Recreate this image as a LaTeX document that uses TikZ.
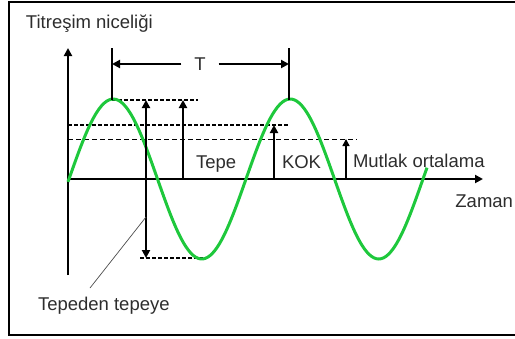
\documentclass[tikz,border=0pt]{standalone}
\usepackage{fontspec}
\setmainfont{Liberation Sans}
\usetikzlibrary{arrows.meta, math}
\definecolor{mygreen}{RGB}{30,200,60}
\definecolor{mytext}{RGB}{45,45,45}

\begin{document}
\begin{tikzpicture}[x=1pt,y=-1pt,line width=2pt,
  lbl/.style={text=mytext,font=\fontsize{18.5}{20}\selectfont,inner sep=0pt},
  arr/.style={-{Triangle[length=8pt,width=8pt]}},
  dline/.style={dash pattern=on 4pt off 2pt}]
\tikzmath{
\amp=80;
\per=177;
\xz=69;
\yb=179;
}
\useasboundingbox (0,0) rectangle (515,338);

% frame
\draw (515,2) -- (9,2) -- (9,335) -- (515,335);

% axes
\coordinate (ybot) at (68,275);
\coordinate (ytop) at (68,48);
\coordinate (O) at (68,\yb);
\coordinate (xend) at (483,\yb);
\draw[arr] (ybot) -- (ytop);
\draw[arr] (O) -- (xend);

% levels
\coordinate (pk1) at (112,100);
\coordinate (pk2) at (289,100);
\draw[dline] (pk1) -- (198,100);
\draw[dline] (68,125) -- (289,125);
\draw[line width=1pt,dash pattern=on 5pt off 3pt] (68,139) -- (357,139);
\draw[dline] (140,258) -- (203,258);

% the wave
\draw[mygreen,line width=3pt] plot[domain=68:427,samples=150,smooth]
  (\x,{\yb-\amp*sin((\x-\xz)/\per*360)});

% period T
\coordinate (t1) at (112,48);
\coordinate (t2) at (289,48);
\draw (t1) -- (pk1);
\draw (t2) -- (pk2);
\node[lbl] (lblT) at (200,64) {T};
\draw[arr] ([xshift=-12pt]lblT.west) -- (112,64);
\draw[arr] ([xshift=12pt]lblT.east) -- (289,64);

% amplitudes
\coordinate (pp1) at (146,100);
\coordinate (pp2) at (146,258);
\draw[{Triangle[length=8pt,width=8pt]}-{Triangle[length=8pt,width=8pt]}] (pp1) -- (pp2);
\draw[arr] (183,\yb) -- (183,100);
\draw[arr] (274,\yb) -- (274,125);
\draw[-{Triangle[length=7pt,width=7pt]},line width=1.5pt] (346,\yb) -- (346,139);

% labels
\node[lbl,anchor=base west] (title) at (25,28) {Titreşim niceliği};
\node[lbl,anchor=base west] (lblTepe) at (195,168) {Tepe};
\node[lbl,anchor=base west] (lblKOK) at (281,168) {KOK};
\node[lbl,anchor=base west] (lblOrt) at (352,167) {Mutlak ortalama};
\node[lbl,anchor=base east] (lblZaman) at (514,207) {Zaman};
\node[lbl,anchor=base west] (lblPP) at (37,310) {Tepeden tepeye};
\coordinate (lead) at (90,288);
\draw[line width=0.7pt,black!70] (lead) -- (146,217);
\end{tikzpicture}
\end{document}
